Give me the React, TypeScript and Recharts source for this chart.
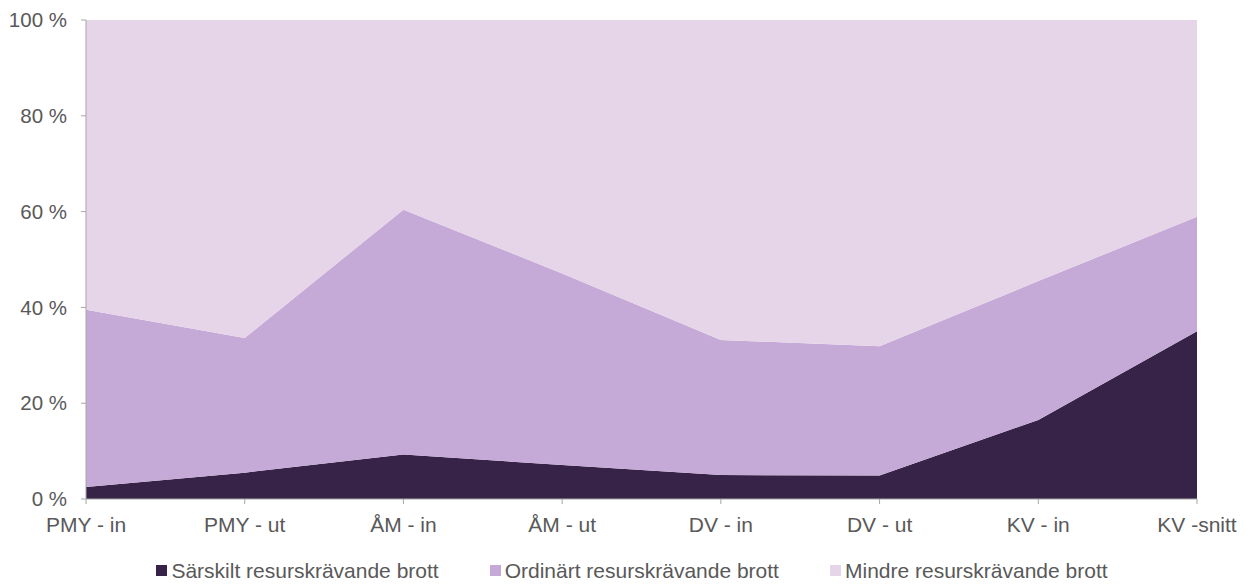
import { AreaChart, Area, XAxis, YAxis, Legend } from 'recharts'

const categories = ['PMY - in', 'PMY - ut', 'ÅM - in', 'ÅM - ut', 'DV - in', 'DV - ut', 'KV - in', 'KV -snitt']
const sarskilt = [2.5, 5.5, 9.3, 7.1, 5.0, 4.9, 16.5, 35.0]
const ordinart = [37.0, 28.1, 51.1, 40.0, 28.2, 27.0, 29.0, 23.9]
const mindre = [60.5, 66.4, 39.6, 52.9, 66.8, 68.1, 54.5, 41.1]
const yTicks = [0, 20, 40, 60, 80, 100]

const SERIES = [
    { key: 'sarskilt', name: 'Särskilt resurskrävande brott', color: '#372248' },
    { key: 'ordinart', name: 'Ordinärt resurskrävande brott', color: '#c5a9d7' },
    { key: 'mindre', name: 'Mindre resurskrävande brott', color: '#e6d4e8' },
]

const data = categories.map((c, i) => ({
    name: c,
    sarskilt: sarskilt[i],
    ordinart: ordinart[i],
    mindre: mindre[i],
}))

const AXIS = '#a6a6a6'
const TEXT = '#595959'
const FONT = '"Liberation Sans", Arial, sans-serif'

function LegendBox() {
    return (
        <div style={{ height: 46, paddingTop: 16, paddingLeft: 13, boxSizing: 'border-box', display: 'flex', justifyContent: 'center', fontFamily: FONT, fontSize: 21, color: TEXT }}>
            {SERIES.map((s, i) => (
                <div key={s.key} style={{ display: 'flex', alignItems: 'center', marginLeft: i === 0 ? 0 : 51, lineHeight: '21px' }}>
                    <span style={{ width: 11, height: 11, background: s.color, display: 'inline-block', marginRight: 4 }} />
                    <span>{s.name}</span>
                </div>
            ))}
        </div>
    )
}

export default function App() {
    return (
        <div style={{ position: 'absolute', left: 0, top: 0, width: 1251, height: 585, background: '#fff' }}>
            <AreaChart width={1251} height={585} data={data} margin={{ top: 20, right: 54, left: 0, bottom: 0 }}>
                <XAxis
                    dataKey="name"
                    height={40}
                    stroke={AXIS}
                    tickSize={5}
                    tickMargin={13}
                    interval={0}
                    tick={{ fontSize: 21, fill: TEXT, fontFamily: FONT }}
                />
                <YAxis
                    width={86}
                    domain={[0, 100]}
                    ticks={yTicks}
                    stroke={AXIS}
                    tickSize={5}
                    tickMargin={14}
                    tickFormatter={(v) => `${v} %`}
                    tick={{ fontSize: 20.5, fill: TEXT, fontFamily: FONT }}
                />
                <Legend
                    verticalAlign="bottom"
                    height={46}
                    wrapperStyle={{ left: 0, width: 1251 }}
                    content={() => <LegendBox />}
                />
                {SERIES.map(s => (
                    <Area
                        key={s.key}
                        dataKey={s.key}
                        name={s.name}
                        stackId="a"
                        type="linear"
                        stroke="none"
                        fill={s.color}
                        fillOpacity={1}
                        isAnimationActive={false}
                    />
                ))}
            </AreaChart>
        </div>
    )
}
